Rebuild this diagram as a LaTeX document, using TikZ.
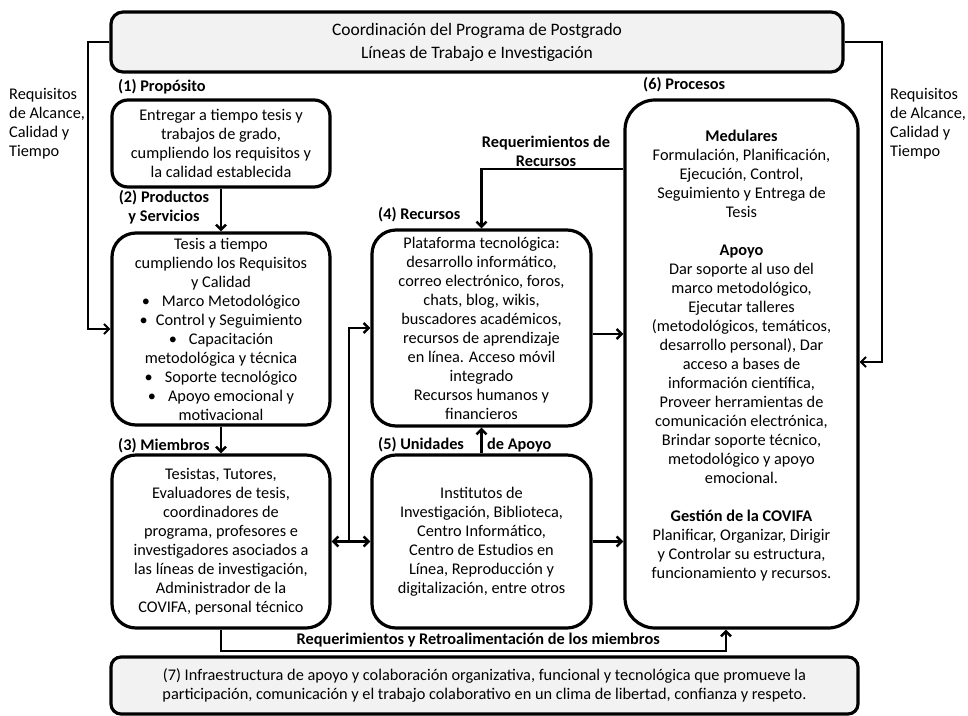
\documentclass[tikz,border=0pt]{standalone}
\usepackage{fontspec}
\setmainfont{Carlito}
\usetikzlibrary{arrows.meta}
\begin{document}
\begin{tikzpicture}[x=1pt,y=-1pt,
  body/.style={font=\fontsize{16.3}{19}\selectfont},
  box/.style={draw, line width=3.2pt, rounded corners=24pt, align=center, inner sep=0pt, body},
  gbox/.style={box, fill=black!5, rounded corners=12pt},
  lbl/.style={font=\fontsize{16.3}{19}\selectfont\bfseries, inner sep=0pt, text height=12pt, text depth=4pt},
  txt/.style={body, inner sep=0pt, align=center},
  side/.style={body, inner sep=0pt, align=left},
  tip/.tip={Straight Barb[length=5pt,width=10pt]},
  arr/.style={line width=2.5pt, -tip},
  darr/.style={line width=2.5pt, tip-tip},
  thinarr/.style={line width=2pt, -tip},
]
\useasboundingbox (0,0) rectangle (968,715);

% boxes
\node[gbox, minimum width=732pt, minimum height=60pt, font=\fontsize{17.5}{23}\selectfont] (tb) at (477,42)
  {Coordinación del Programa de Postgrado\\Líneas de Trabajo e Investigación};
\node[box, rounded corners=16pt, minimum width=218pt, minimum height=87pt] (b1) at (221,143.5)
  {Entregar a tiempo tesis y\\trabajos de grado,\\cumpliendo los requisitos y\\la calidad establecida};
\node[box, minimum width=218pt, minimum height=192pt] (b2) at (221,329)
  {Tesis a tiempo\\cumpliendo los Requisitos\\y Calidad\\•\hspace{12pt}Marco Metodológico\\•\hspace{8pt}Control y Seguimiento\\•\hspace{12pt}Capacitación\\metodológica y técnica\\•\hspace{12pt}Soporte tecnológico\\•\hspace{12pt}Apoyo emocional y\\motivacional};
\node[box, minimum width=218pt, minimum height=173pt] (b3) at (221,541.5)
  {Tesistas, Tutores,\\Evaluadores de tesis,\\coordinadores de\\programa, profesores e\\investigadores asociados a\\las líneas de investigación,\\Administrador de la\\COVIFA, personal técnico};
\node[box, minimum width=219pt, minimum height=196pt] (b4) at (481.5,328)
  {Plataforma tecnológica:\\desarrollo informático,\\correo electrónico, foros,\\chats, blog, wikis,\\buscadores académicos,\\recursos de aprendizaje\\en línea. Acceso móvil\\integrado\\Recursos humanos y\\financieros};
\node[box, minimum width=219pt, minimum height=173pt] (b5) at (481.5,541.5)
  {Institutos de\\Investigación, Biblioteca,\\Centro Informático,\\Centro de Estudios en\\Línea, Reproducción y\\digitalización, entre otros};
\node[box, rounded corners=30pt, minimum width=233pt, minimum height=528pt] (b6) at (741.5,364) {};
\node[txt] (b6t) at (741.5,356)
  {\textbf{Medulares}\\Formulación, Planificación,\\Ejecución, Control,\\Seguimiento y Entrega de\\Tesis\\[19pt]
   \textbf{Apoyo}\\Dar soporte al uso del\\marco metodológico,\\Ejecutar talleres\\(metodológicos, temáticos,\\desarrollo personal), Dar\\acceso a bases de\\información científica,\\Proveer herramientas de\\comunicación electrónica,\\Brindar soporte técnico,\\metodológico y apoyo\\emocional.\\[19pt]
   \textbf{Gestión de la COVIFA}\\Planificar, Organizar, Dirigir\\y Controlar su estructura,\\funcionamiento y recursos.};
\node[gbox, rounded corners=10pt, minimum width=747pt, minimum height=57pt, font=\fontsize{16.3}{19}\selectfont] (b7) at (484.5,685.5)
  {(7) Infraestructura de apoyo y colaboración organizativa, funcional y tecnológica que promueve la\\participación, comunicación y el trabajo colaborativo en un clima de libertad, confianza y respeto.};

% labels
\node[lbl, anchor=west] (l1) at (118,87) {(1) Propósito};
\node[lbl, align=center, text height=, text depth=] (l2) at (164,207) {(2) Productos\\y Servicios};
\node[lbl, anchor=west] (l3) at (118,446) {(3) Miembros};
\node[lbl, anchor=west] (l4) at (378,215) {(4) Recursos};
\node[lbl, anchor=west] (l5a) at (378,445) {(5) Unidades};
\node[lbl, anchor=west] (l5b) at (487,445) {de Apoyo};
\node[lbl, anchor=west] (l6) at (643,85) {(6) Procesos};
\node[lbl, align=center, text height=, text depth=] (lr) at (546,151) {Requerimientos de\\Recursos};
\node[lbl, anchor=east] (lm) at (660,640) {Requerimientos y Retroalimentación de los miembros};
\node[side, anchor=west] (rqL) at (9,124) {Requisitos\\de Alcance,\\Calidad y\\Tiempo};
\node[side, anchor=west] (rqR) at (890,124) {Requisitos\\de Alcance,\\Calidad y\\Tiempo};

% helper points
\coordinate (L) at (88,42);
\coordinate (R) at (882,42);
\coordinate (J) at (349,541.5);
\coordinate (B2) at (726,651);

% connectors
\draw[thinarr] (tb.west) -- (L) |- (b2.west);
\draw[thinarr] (tb.east) -- (R) |- (b6.east |- 0,362);
\draw[arr] (b1.south) -- (b2.north);
\draw[arr] (b2.south) -- (b3.north);
\draw[darr] (b3.east) -- (b5.west);
\draw[arr] (J) |- (b4.west);
\draw[arr] (b5.north) -- (b4.south);
\draw[arr] (b6.west |- 0,169) -| (b4.north);
\draw[arr] (b4.east |- 0,334) -- (b6.west |- 0,334);
\draw[arr] (b5.east) -- (b6.west |- b5.east);
\draw[arr] (b3.south) |- (B2) -- (b6.south -| B2);
\end{tikzpicture}
\end{document}
